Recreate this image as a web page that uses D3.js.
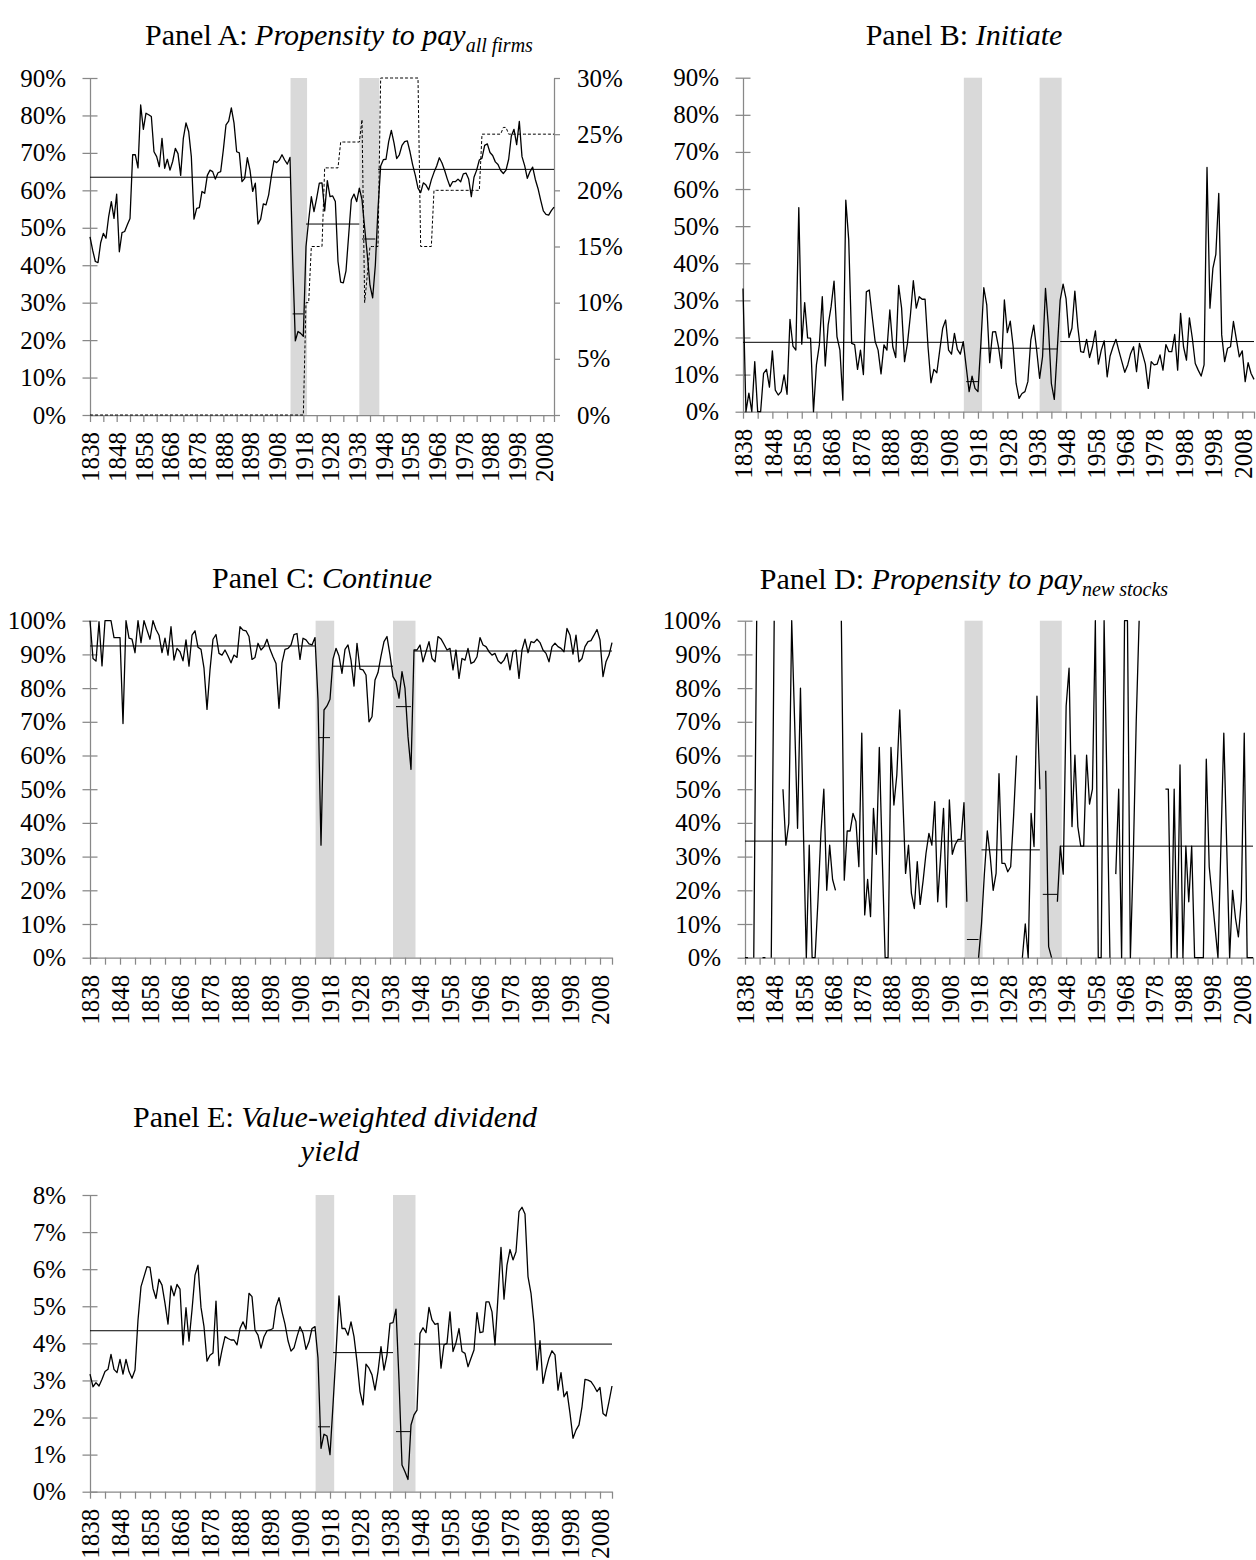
<!DOCTYPE html>
<html>
<head>
<meta charset="utf-8">
<script src="https://cdnjs.cloudflare.com/ajax/libs/d3/7.8.5/d3.min.js"></script>
<style>
    body { margin: 0; background: #fff; }
    svg text { font-family: "Liberation Serif", "Times New Roman", serif; fill: #000; }
    .axis text { font-size: 25px; }
    .axis path, .axis line { stroke: #888; stroke-width: 1.25; }
    .title { font-size: 30px; }
</style>
</head>
<body>
<svg id="chart" width="1256" height="1560"></svg>
<script>
    // categories: one point per year
    var years = d3.range(1838, 2013);
    var labelYears = [1838, 1848, 1858, 1868, 1878, 1888, 1898, 1908, 1918, 1928,
                      1938, 1948, 1958, 1968, 1978, 1988, 1998, 2008];

    // tick labels (values in percent)
    var pctTicks90 = [0, 10, 20, 30, 40, 50, 60, 70, 80, 90];
    var pctTicks100 = [0, 10, 20, 30, 40, 50, 60, 70, 80, 90, 100];
    var rightTicksA = [0, 5, 10, 15, 20, 25, 30];
    var yieldTicks = [0, 1, 2, 3, 4, 5, 6, 7, 8];

    // Panel A: propensity to pay, all firms (left axis)
    var payAllFirms = [
        47.6, 44, 41, 40.7, 46, 48.5, 47.2, 53, 57, 52.5,           // 1838
        59, 43.6, 48.7, 49, 50.8, 52.5, 69.5, 69.5, 66, 82.8,       // 1848
        76.3, 80.6, 80.2, 79.7, 70.3, 69, 66.3, 73.9, 65.9, 68.3,   // 1858
        65.4, 67.7, 71.2, 69.8, 64, 73.9, 78, 75.7, 69, 52.3,       // 1868
        55.2, 55.4, 59.7, 59.2, 64, 65.4, 65, 63, 64.7, 65,         // 1878
        70.8, 77.5, 78.5, 82, 78, 70.3, 70, 62.3, 63.2, 68.7,       // 1888
        65.4, 59.7, 61.9, 51, 52.3, 56.4, 56.1, 58.8, 63.7, 67.9,   // 1898
        67.4, 68.1, 69.5, 68.1, 67, 68.8, 41.5, 19.8, 22.3, 21.8,   // 1908
        21, 45, 52, 58.3, 54.3, 57.9, 61.9, 62, 54.5, 62.6,         // 1918
        58.3, 58.5, 57, 41, 35.5, 35.3, 38.5, 48, 57.5, 59,         // 1928
        57, 60.6, 57.5, 50, 42.7, 34.6, 31.3, 40, 55, 66.5,         // 1938
        68.2, 68.3, 73, 76, 72.7, 68.5, 69.5, 72, 73, 73.2,         // 1948
        70.3, 66.8, 64, 60.6, 59.4, 62, 61.4, 60.1, 62.8, 64.8,     // 1958
        66.5, 68.7, 67.3, 65.3, 63, 61, 62.3, 62.3, 63, 62.3,       // 1968
        64.4, 64.6, 63, 58.3, 63.5, 65.4, 68.1, 68.6, 72, 72.4,     // 1978
        70.1, 69.3, 67.6, 66.9, 65.3, 64.5, 65.4, 68.3, 74.5, 76.3, // 1988
        72.2, 78.4, 69, 66.6, 63.2, 65, 66.2, 62.9, 60.5, 57.4,     // 1998
        54.5, 53.6, 53.4, 54.6, 55.5                                // 2008
    ];

    // Panel A: dashed series on the right axis
    var payAllFirmsRight = [
        0, 0, 0, 0, 0, 0, 0, 0, 0, 0,                       // 1838
        0, 0, 0, 0, 0, 0, 0, 0, 0, 0,                       // 1848
        0, 0, 0, 0, 0, 0, 0, 0, 0, 0,                       // 1858
        0, 0, 0, 0, 0, 0, 0, 0, 0, 0,                       // 1868
        0, 0, 0, 0, 0, 0, 0, 0, 0, 0,                       // 1878
        0, 0, 0, 0, 0, 0, 0, 0, 0, 0,                       // 1888
        0, 0, 0, 0, 0, 0, 0, 0, 0, 0,                       // 1898
        0, 0, 0, 0, 0, 0, 0, 0, 0, 0,                       // 1908
        0, 10, 10, 15, 15, 15, 15, 15, 22, 22,              // 1918
        22, 22, 22, 22, 24.3, 24.3, 24.3, 24.3, 24.3, 24.3, // 1928
        24.3, 24.3, 26.3, 10, 12.5, 15, 15, 15, 15, 30,     // 1938
        30, 30, 30, 30, 30, 30, 30, 30, 30, 30,             // 1948
        30, 30, 30, 30, 15, 15, 15, 15, 15, 20,             // 1958
        20, 20, 20, 20, 20, 20, 20, 20, 20, 20,             // 1968
        20, 20, 20, 20, 20, 20, 20, 25, 25, 25,             // 1978
        25, 25, 25, 25, 25, 25.6, 25.6, 25, 25, 25,         // 1988
        25, 25, 25, 25, 25, 25, 25, 25, 25, 25,             // 1998
        25, 25, 25, 25, 25                                  // 2008
    ];

    // Panel B: initiate
    var initiate = [
        33.2, 0, 5, 0, 13.5, 0, 0, 10.3, 11.4, 6.6,            // 1838
        16.4, 5.8, 4.5, 5.4, 9.9, 4.7, 24.9, 17.7, 16.6, 55,   // 1848
        18.2, 29.4, 19.9, 19.8, 0, 12.6, 18, 31, 12.3, 23.4,   // 1858
        28.3, 35.2, 20.2, 16.6, 3.1, 57, 46.3, 18.4, 18.1, 11.4, // 1868
        16.6, 10, 32.3, 32.8, 25.6, 18.9, 16.6, 10.2, 18, 16.6,  // 1878
        27.4, 17.5, 14.6, 34, 27.9, 13.5, 18.4, 26, 35.3, 27.9,  // 1888
        31, 30.3, 30.3, 17.5, 7.8, 11.4, 10.5, 16.6, 22.5, 24.7, // 1898
        16.6, 15.5, 21.1, 16.8, 15.5, 18.9, 12.1, 5.4, 9.6, 6.3, // 1908
        5.4, 18.4, 33.4, 28.8, 13.2, 21.5, 21.6, 17.5, 11.7, 30.1, // 1918
        21.3, 24.4, 17.5, 7.6, 3.6, 4.9, 5.4, 8.1, 19.3, 23.3,   // 1928
        16.6, 9, 14.8, 33.2, 22.9, 7.6, 3.3, 16.6, 30.1, 34.4,   // 1938
        30.5, 20, 22.5, 32.5, 22.9, 16.2, 16, 19.5, 14.6, 17.5,  // 1948
        21.8, 12.8, 16.6, 19.1, 9.4, 15, 17.5, 19.5, 16.4, 13.5, // 1958
        10.6, 12.6, 15.7, 17.5, 10.8, 18.4, 15.7, 12.8, 6.3, 13.5, // 1968
        12.6, 12.8, 15.3, 11.2, 18.1, 16.2, 16.2, 20.8, 11.2, 26.5, // 1978
        17.5, 13.9, 25.3, 19.8, 13, 11.2, 9.6, 12.6, 65.8, 27.9, // 1988
        38.6, 42.4, 58.8, 20.7, 13.5, 17.1, 17.5, 24.3, 19.5, 14.8, // 1998
        16.4, 8.1, 13.2, 10.3, 8.7                                // 2008
    ];

    // Panel C: continue
    var continueRate = [
        100, 88.8, 88, 99.7, 86.6, 100, 100, 100, 95, 95,        // 1838
        95, 69.5, 100, 94.8, 94.5, 90.5, 100, 93.5, 100, 97.2,   // 1848
        94.5, 100, 97.4, 95.7, 90.5, 94.8, 89.8, 98.2, 88.3, 91.8, // 1858
        90.8, 88.1, 94.3, 86.5, 95.7, 97, 92.1, 91.5, 85.9, 73.7,  // 1868
        85.4, 94.5, 95.9, 90.3, 89.8, 91.3, 89.5, 87.5, 89.8, 89.1, // 1878
        98.2, 97.2, 97, 95.3, 88.5, 89.1, 93.3, 91.3, 92.3, 94.5,  // 1888
        91.5, 89.3, 87.3, 74, 87.5, 91.5, 91.8, 92.8, 95.9, 96.2,  // 1898
        88.5, 94.8, 94.3, 93.1, 92.8, 95, 76.5, 33.4, 73.5, 74.7,  // 1908
        76.7, 88.6, 91.8, 89.5, 84.4, 91.5, 92.8, 88.3, 80.6, 93.3, // 1918
        85.6, 85.4, 83.9, 70, 71.5, 82.4, 84.6, 89.5, 93.8, 95.3,  // 1928
        89.8, 83.4, 81.9, 77, 84.9, 79.9, 65.6, 55.9, 91.3, 91.3,  // 1938
        92.8, 87.8, 90.8, 93.8, 88.8, 87.8, 95.3, 94.6, 93, 91.3,  // 1948
        91.8, 85.4, 91.3, 82.9, 88.8, 88.3, 91.8, 87.3, 87.8, 89.3, // 1958
        95, 92.8, 92.3, 90.8, 89.8, 90.3, 88.1, 87.3, 88.3, 90.3,  // 1968
        85.4, 90.8, 91.3, 82.9, 91.3, 94.5, 90.5, 93.8, 93.5, 94.5, // 1978
        93.5, 91.3, 90.3, 87.8, 92.3, 93.3, 92.3, 91.8, 90.8, 97.7, // 1988
        95.7, 90.1, 95.7, 87.8, 88.8, 92.3, 93.8, 94.1, 95.7, 97.4, // 1998
        94.3, 83.4, 87.8, 89.8, 93.5                               // 2008
    ];

    // Panel D: propensity to pay, new stocks (null = no new stocks that year)
    var payNewStocks = [
        0, 0, null, 0, 100, null, 0, 0, null, 0,                 // 1838
        100, null, null, 50, 33.4, 39.9, 100, 70, 38.4, 80,      // 1848
        38, 0, 33.4, 0, 0, 17, 37, 50, 20, 33.4,                 // 1858
        23.2, 20, null, 100, 23, 37.6, 37.6, 42.8, 40.4, 27,     // 1868
        66.6, 12.7, 23.2, 12.2, 44.3, 30.7, 62.4, 30, 0, 0,      // 1878
        62.4, 45.3, 54.2, 73.5, 48.8, 25, 33.4, 19.1, 14.6, 28.5, // 1888
        15.8, 22.8, 31, 36.9, 33.4, 46.3, 16.6, 30, 44.3, 15,    // 1898
        46.8, 30.7, 33.6, 35.1, 35.1, 46, 16.6, null, null, null, // 1908
        0, 10, 25, 37.6, 30, 20, 25, 54.6, 28, 28,               // 1918
        25.5, 27, 42, 60, null, 0, 10, 0, 42.8, 33,              // 1928
        77.6, 50, null, 55.5, 3.3, 0, null, 16.6, 33.1, 24.8,    // 1938
        74.7, 85.9, 38.9, 60.1, 38.9, 33.1, 33.1, 60.1, 45.6, 50, // 1948
        100, 0, 0, 100, 50, 0, null, 24.8, 50, 0,                // 1958
        100, 100, 0, 30, 70, 100, null, null, null, null,        // 1968
        null, null, null, null, 50, 50, 0, 50, 0, 57.2,          // 1978
        0, 33.1, 16.6, 33.1, 0, 0, 0, 0, 58.9, 27,               // 1988
        18, 9, 0, 33, 66.6, 33, 0, 20, 11.7, 6.2,                // 1998
        17.1, 66.6, 0, 0, 0                                      // 2008
    ];

    // Panel E: value-weighted dividend yield
    var divYield = [
        3.17, 2.83, 2.94, 2.85, 3.03, 3.24, 3.3, 3.7, 3.3, 3.21,  // 1838
        3.57, 3.17, 3.57, 3.24, 3.06, 3.28, 4.63, 5.53, 5.8, 6.07, // 1848
        6.05, 5.48, 5.21, 5.73, 5.57, 5.08, 4.52, 5.55, 5.28, 5.59, // 1858
        5.46, 3.96, 4.96, 4.06, 4.9, 5.84, 6.11, 4.97, 4.45, 3.52, // 1868
        3.68, 3.74, 5.14, 3.4, 3.82, 4.18, 4.13, 4.09, 4.09, 3.96, // 1878
        4.4, 4.58, 4.38, 5.35, 5.26, 4.36, 4.22, 3.87, 4.18, 4.34, // 1888
        4.36, 4.4, 4.99, 5.23, 4.85, 4.52, 4.07, 3.79, 3.88, 4.18, // 1898
        4.45, 4.27, 3.84, 4.04, 4.4, 4.45, 3.6, 1.17, 1.55, 1.5,   // 1908
        1.0, 2.34, 3.73, 5.28, 4.4, 4.4, 4.22, 4.58, 4.18, 3.5,    // 1918
        2.7, 2.34, 3.44, 3.33, 3.15, 2.74, 3.24, 3.91, 3.28, 3.69, // 1928
        4.54, 4.56, 4.92, 3.01, 0.72, 0.54, 0.33, 1.8, 2.07, 2.2,  // 1938
        4.27, 4.42, 4.29, 4.97, 4.63, 4.51, 4.54, 3.33, 3.96, 4.0, // 1948
        4.85, 3.78, 4.02, 4.4, 3.78, 3.73, 3.37, 3.6, 3.82, 4.83,  // 1958
        4.29, 4.31, 5.12, 5.12, 4.85, 3.96, 5.26, 6.59, 5.19, 6.11, // 1968
        6.53, 6.25, 6.47, 7.55, 7.67, 7.49, 5.8, 5.35, 4.54, 3.28, // 1978
        4.07, 2.92, 3.3, 3.6, 3.8, 3.69, 2.74, 3.21, 2.56, 2.7,    // 1988
        2.11, 1.44, 1.66, 1.8, 2.29, 3.03, 3.01, 2.97, 2.85, 2.7,  // 1998
        2.81, 2.11, 2.04, 2.43, 2.85                               // 2008
    ];

    // sub-period averages (flat lines)
    var meanPeriods = [[1838, 1913], [1914, 1918], [1919, 1939], [1940, 1945], [1946, 2012]];
    var meansA = [63.5, 27, 51, 47, 65.6];
    var meansB = [18.7, 8.1, 17.1, 16.9, 18.9];
    var meansC = [92.5, 65.3, 86.5, 74.5, 91.0];
    var meansD = [34.6, 5.4, 32.0, 18.8, 33.1];
    var meansE = [4.34, 1.75, 3.75, 1.62, 3.98];

    // shaded war years
    var warBands = [[1913.2, 1919.4], [1939.0, 1946.5]];

    var svg = d3.select("#chart");

    var panels = [
        {
            left: 90, right: 554, top: 78, bottom: 415, yMax: 90, yTicks: pctTicks90,
            values: payAllFirms, means: meansA,
            rightAxis: { yMax: 30, ticks: rightTicksA, values: payAllFirmsRight },
            title: [[{ t: "Panel A: " }, { t: "Propensity to pay", i: true }, { t: "all firms", i: true, sub: true }]],
            titleX: [339], titleY: [45]
        },
        {
            left: 743, right: 1254, top: 77.7, bottom: 411.7, yMax: 90, yTicks: pctTicks90,
            values: initiate, means: meansB,
            title: [[{ t: "Panel B: " }, { t: "Initiate", i: true }]],
            titleX: [964], titleY: [45]
        },
        {
            left: 90, right: 612, top: 620.7, bottom: 957.7, yMax: 100, yTicks: pctTicks100,
            values: continueRate, means: meansC,
            title: [[{ t: "Panel C: " }, { t: "Continue", i: true }]],
            titleX: [322], titleY: [588]
        },
        {
            left: 745, right: 1253, top: 620.7, bottom: 957.7, yMax: 100, yTicks: pctTicks100,
            values: payNewStocks, means: meansD,
            title: [[{ t: "Panel D: " }, { t: "Propensity to pay", i: true }, { t: "new stocks", i: true, sub: true }]],
            titleX: [964], titleY: [589]
        },
        {
            left: 90, right: 612, top: 1195, bottom: 1491.7, yMax: 8, yTicks: yieldTicks,
            values: divYield, means: meansE,
            title: [[{ t: "Panel E: " }, { t: "Value-weighted dividend", i: true }], [{ t: "yield", i: true }]],
            titleX: [335, 330], titleY: [1127, 1161]
        }
    ];

    function drawTitle(g, p) {
        p.title.forEach(function (parts, k) {
            var txt = g.append("text")
                .classed("title", true)
                .attr("x", p.titleX[k])
                .attr("y", p.titleY[k])
                .style("text-anchor", "middle");
            parts.forEach(function (part) {
                var ts = txt.append("tspan").text(part.t);
                if (part.i) ts.style("font-style", "italic");
                if (part.sub) ts.attr("dy", 7).style("font-size", "20px");
            });
        });
    }

    function drawPanel(p) {
        var g = svg.append("g").classed("panel", true);

        var x = d3.scaleLinear()
            .domain([years[0], years[years.length - 1]])
            .range([p.left, p.right]);
        var y = d3.scaleLinear()
            .domain([0, p.yMax])
            .range([p.bottom, p.top]);

        // grey bands behind everything
        g.selectAll(".band")
            .data(warBands)
            .enter()
            .append("rect")
            .classed("band", true)
            .attr("x", function (d) { return x(d[0]); })
            .attr("width", function (d) { return x(d[1]) - x(d[0]); })
            .attr("y", p.top)
            .attr("height", p.bottom - p.top)
            .style("fill", "#d9d9d9");

        // y axis, ticks cross the axis line
        var yAxis = d3.axisLeft(y)
            .tickValues(p.yTicks)
            .tickFormat(function (d) { return d + "%"; })
            .tickSizeInner(7.5)
            .tickSizeOuter(0)
            .tickPadding(16.5);
        g.append("g")
            .classed("axis", true)
            .attr("transform", "translate(" + p.left + ",0)")
            .call(yAxis)
            .call(function (a) { a.selectAll(".tick line").attr("x1", 7.5); });

        // x axis: tick every 5 years, label every 10, rotated
        var xTicks = d3.range(1838, 2013, 5).concat([2012]);
        var xAxis = d3.axisBottom(x)
            .tickValues(xTicks)
            .tickFormat(function (d) { return labelYears.indexOf(d) >= 0 ? d : ""; })
            .tickSizeInner(7)
            .tickSizeOuter(0);
        g.append("g")
            .classed("axis", true)
            .attr("transform", "translate(0," + p.bottom + ")")
            .call(xAxis)
            .selectAll("text")
            .attr("transform", "rotate(-90)")
            .attr("x", -17)
            .attr("y", 0)
            .attr("dy", "0.35em")
            .attr("text-anchor", "end");

        // secondary axis (Panel A only)
        var yR = null;
        if (p.rightAxis) {
            yR = d3.scaleLinear()
                .domain([0, p.rightAxis.yMax])
                .range([p.bottom, p.top]);
            g.append("g")
                .classed("axis", true)
                .attr("transform", "translate(" + p.right + ",0)")
                .call(d3.axisRight(yR)
                    .tickValues(p.rightAxis.ticks)
                    .tickFormat(function (d) { return d + "%"; })
                    .tickSizeInner(6)
                    .tickSizeOuter(0)
                    .tickPadding(17));
        }

        // sub-period means
        g.selectAll(".mean")
            .data(meanPeriods)
            .enter()
            .append("line")
            .classed("mean", true)
            .attr("x1", function (d) { return x(d[0]); })
            .attr("x2", function (d) { return x(d[1]); })
            .attr("y1", function (d, i) { return y(p.means[i]); })
            .attr("y2", function (d, i) { return y(p.means[i]); })
            .style("stroke", "#000")
            .style("stroke-width", 1);

        if (yR) {
            var lineR = d3.line()
                .x(function (d) { return x(d[0]); })
                .y(function (d) { return yR(d[1]); });
            g.append("path")
                .datum(years.map(function (yr, i) { return [yr, p.rightAxis.values[i]]; }))
                .attr("d", lineR)
                .style("fill", "none")
                .style("stroke", "#000")
                .style("stroke-width", 1)
                .style("stroke-dasharray", "3,2");
        }

        // main series, gaps where no value
        var line = d3.line()
            .defined(function (d) { return d[1] !== null; })
            .x(function (d) { return x(d[0]); })
            .y(function (d) { return y(d[1]); });
        g.append("path")
            .datum(years.map(function (yr, i) { return [yr, p.values[i]]; }))
            .attr("d", line)
            .style("fill", "none")
            .style("stroke", "#000")
            .style("stroke-width", 1.3)
            .style("stroke-linejoin", "round");

        drawTitle(g, p);
    }

    panels.forEach(drawPanel);
</script>
</body>
</html>
